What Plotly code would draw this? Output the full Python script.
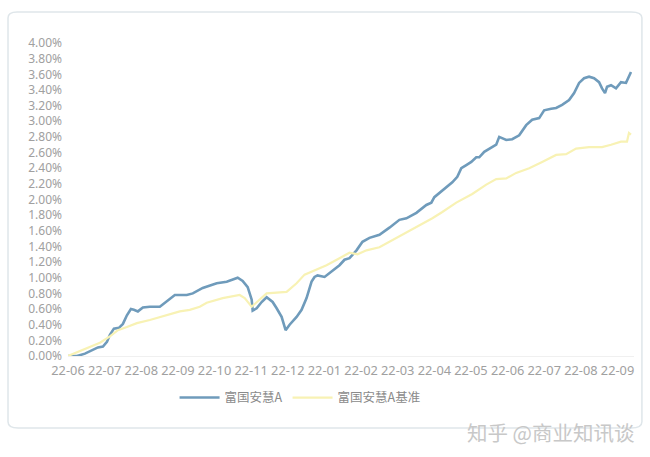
import plotly.graph_objects as go

# x positions in months from the first tick (22-06 = 0)
fund_x = [0.000, 0.245, 0.463, 0.681, 0.817, 0.954, 1.063, 1.144, 1.253, 1.390, 1.499, 1.608, 1.717, 1.798,
          1.907, 2.044, 2.234, 2.507, 2.698, 2.916, 3.243, 3.406, 3.678, 4.060, 4.332, 4.632, 4.768, 4.905,
          5.014, 5.041, 5.150, 5.286, 5.422, 5.504, 5.586, 5.695, 5.831, 5.940, 6.049, 6.240, 6.376, 6.512,
          6.649, 6.730, 6.812, 7.003, 7.139, 7.411, 7.548, 7.684, 7.875, 8.038, 8.229, 8.501, 8.774, 9.046,
          9.237, 9.510, 9.782, 9.918, 10.000, 10.218, 10.490, 10.627, 10.736, 10.872, 11.008, 11.144, 11.226,
          11.362, 11.553, 11.689, 11.771, 11.962, 12.125, 12.316, 12.507, 12.670, 12.861, 12.997, 13.188,
          13.324, 13.488, 13.678, 13.815, 13.951, 14.087, 14.223, 14.360, 14.496, 14.578, 14.659, 14.714,
          14.823, 14.959, 15.095, 15.232, 15.368]
fund_y = [0.00, 0.00, 0.03, 0.08, 0.11, 0.12, 0.18, 0.27, 0.35, 0.36, 0.41, 0.52, 0.60, 0.59,
          0.57, 0.62, 0.63, 0.63, 0.70, 0.78, 0.78, 0.80, 0.87, 0.93, 0.95, 1.00, 0.96, 0.88,
          0.72, 0.58, 0.61, 0.69, 0.75, 0.72, 0.69, 0.61, 0.50, 0.33, 0.40, 0.50, 0.59, 0.74,
          0.95, 1.01, 1.03, 1.01, 1.06, 1.16, 1.23, 1.25, 1.35, 1.46, 1.51, 1.55, 1.64, 1.74,
          1.76, 1.83, 1.93, 1.96, 2.03, 2.12, 2.22, 2.29, 2.40, 2.44, 2.48, 2.54, 2.54,
          2.61, 2.66, 2.70, 2.80, 2.76, 2.77, 2.82, 2.95, 3.02, 3.04, 3.14, 3.16,
          3.17, 3.21, 3.27, 3.36, 3.49, 3.55, 3.57, 3.55, 3.50, 3.42, 3.36, 3.44,
          3.46, 3.42, 3.50, 3.49, 3.63]

bench_x = [0.000, 0.327, 0.599, 0.872, 1.144, 1.362, 1.608, 1.880, 2.234, 2.507, 2.779, 3.052, 3.324, 3.597,
           3.787, 4.223, 4.687, 4.823, 5.014, 5.150, 5.422, 5.967, 6.240, 6.458, 6.785, 7.057, 7.411, 7.684,
           7.902, 8.147, 8.501, 8.856, 9.237, 9.591, 9.946, 10.218, 10.409, 10.599, 11.035, 11.417, 11.689,
           11.962, 12.234, 12.589, 12.943, 13.324, 13.597, 13.869, 14.223, 14.578, 14.823, 15.095, 15.259,
           15.313, 15.368]
bench_y = [0.00, 0.06, 0.11, 0.17, 0.25, 0.33, 0.37, 0.42, 0.46, 0.50, 0.54, 0.57, 0.59, 0.63,
           0.68, 0.74, 0.78, 0.74, 0.63, 0.69, 0.80, 0.82, 0.93, 1.04, 1.10, 1.16, 1.25, 1.32,
           1.30, 1.35, 1.39, 1.48, 1.58, 1.67, 1.76, 1.84, 1.90, 1.96, 2.07, 2.19, 2.26,
           2.27, 2.34, 2.40, 2.48, 2.57, 2.58, 2.65, 2.67, 2.67, 2.70, 2.74, 2.74,
           2.85, 2.83]

month_labels = ["22-06", "22-07", "22-08", "22-09", "22-10", "22-11", "22-12", "22-01",
                "22-02", "22-03", "22-04", "22-05", "22-06", "22-07", "22-08", "22-09"]
y_ticks = [i * 0.2 for i in range(21)]
y_labels = [f"{v:.2f}%" for v in y_ticks]

fig = go.Figure()
fig.add_trace(go.Scatter(x=fund_x, y=fund_y, mode="lines", name="富国安慧A",
                         line=dict(color="#6F9BBB", width=2.6)))
fig.add_trace(go.Scatter(x=bench_x, y=bench_y, mode="lines", name="富国安慧A基准",
                         line=dict(color="#F8F2B4", width=2.2)))

fig.update_layout(
    width=650, height=457,
    margin=dict(l=68, r=16, t=43, b=101, autoexpand=False),
    paper_bgcolor="white", plot_bgcolor="white",
    font=dict(family="Noto Sans CJK SC", color="#9a9a9a", size=12),
    showlegend=True,
    legend=dict(orientation="h", x=0.41, xanchor="center", y=-0.134, yanchor="middle",
                font=dict(size=12.5, color="#8a8a8a"), itemwidth=40, tracegroupgap=0),
    xaxis=dict(range=[0, 15.45], tickmode="array", tickvals=list(range(16)), ticktext=month_labels,
               showgrid=False, zeroline=False, showline=True, linecolor="#f0f0f0",
               ticks="", automargin=False, tickangle=0, ticklabelstandoff=3,
               tickfont=dict(size=12.8, color="#a0a0a0", family="Noto Sans")),
    yaxis=dict(range=[0, 4.0], tickmode="array", tickvals=y_ticks, ticktext=y_labels,
               showgrid=False, zeroline=False, showline=False, ticks="", automargin=False,
               ticklabelstandoff=5, tickfont=dict(size=12, color="#a0a0a0", family="Noto Sans")),
    shapes=[
        dict(type="path", xref="paper", yref="paper",
             path="M -0.09 1.099 L 0.995 1.099 Q 1.014 1.099 1.014 1.08 L 1.014 -0.21 Q 1.014 -0.23 0.995 -0.23 L -0.088 -0.23 Q -0.106 -0.23 -0.106 -0.21 L -0.106 1.08 Q -0.106 1.099 -0.09 1.099 Z",
             line=dict(color="#dfe6ea", width=1.5), fillcolor="rgba(0,0,0,0)", layer="below"),
    ],
    annotations=[
        dict(text="知乎 @商业知讯谈", xref="paper", yref="paper", x=1.005, y=-0.243,
             xanchor="right", yanchor="middle", showarrow=False,
             font=dict(size=20.5, color="#c8c8c8", family="Noto Sans CJK SC")),
    ],
)

fig.write_html("out.html", config={"displayModeBar": False},
               post_script="document.body.style.margin='0';document.body.style.padding='0';")
